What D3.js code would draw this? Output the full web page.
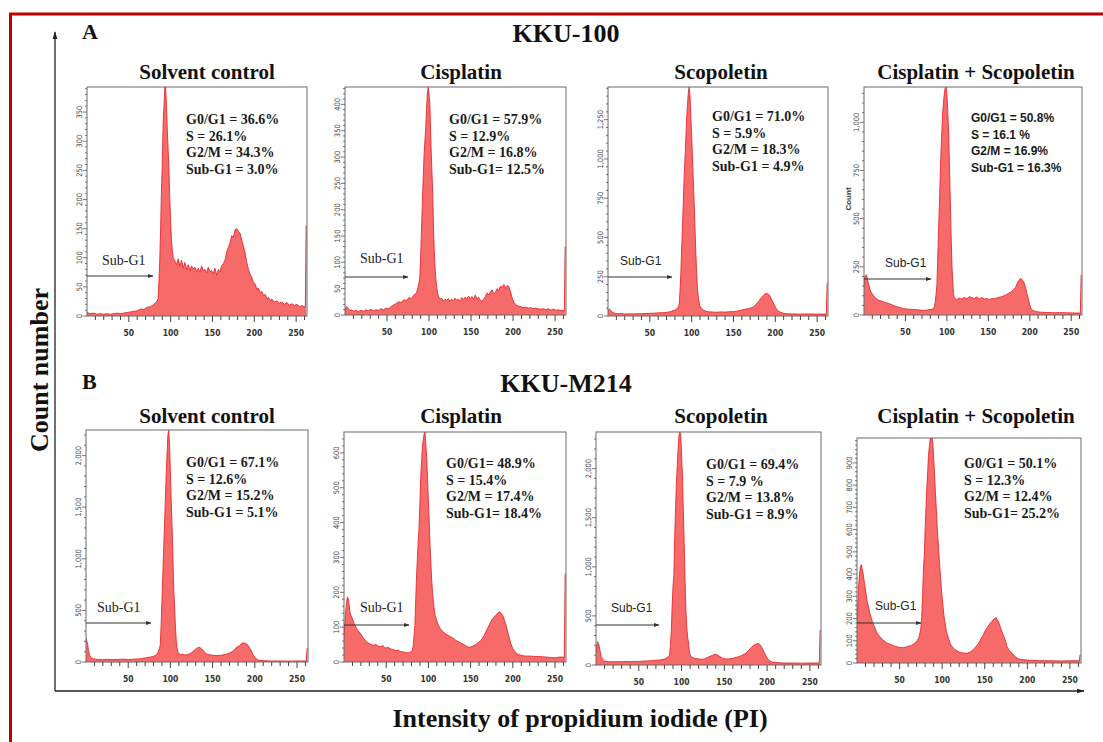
<!DOCTYPE html>
<html>
<head>
<meta charset="utf-8">
<script src="https://cdn.jsdelivr.net/npm/d3@7"></script>
<style>
  body { margin:0; background:#fff; }
  svg { display:block; }
</style>
</head>
<body>
<div id="chart"></div>
<script>
// ---- data: [PI channel, count] ----
const cellLines = ["KKU-100", "KKU-M214"];
const panelLetters = ["A", "B"];
const treatments = ["Solvent control", "Cisplatin", "Scopoletin", "Cisplatin + Scopoletin"];
const xTicks = [50, 100, 150, 200, 250];

const kku100Control = [[0,6],[4,4],[8,5],[12,3],[16,4],[20,3],[24,4],[28,3],[32,4],[36,5],[40,4],[44,5],[48,6],[52,7],[56,8],[60,9],[64,12],[68,11],[72,15],[76,16],[80,20],[83,24],[85,30],[86,60],[87,96],[88,150],[89,215],[90,260],[91,330],[92,360],[93,393],[94,393],[95,360],[96,320],[97,285],[98,250],[99,200],[100,160],[101,130],[102,112],[103,100],[105,95],[107,88],[109,98],[111,85],[113,96],[115,82],[117,92],[119,80],[121,88],[123,78],[125,86],[127,80],[129,84],[131,76],[133,82],[135,75],[137,86],[139,78],[141,80],[143,74],[145,84],[147,76],[149,78],[151,72],[153,82],[155,70],[157,80],[159,76],[161,86],[163,90],[165,96],[167,110],[169,118],[171,125],[173,138],[175,135],[177,148],[179,150],[181,145],[183,142],[185,130],[187,120],[189,108],[191,92],[193,80],[195,72],[197,66],[199,58],[201,55],[203,46],[205,48],[207,40],[209,42],[211,35],[213,37],[215,30],[217,32],[219,27],[221,29],[224,24],[227,26],[230,22],[233,24],[236,20],[239,23],[242,19],[245,21],[248,18],[251,20],[254,16],[257,18],[261,15],[262,156]];
const kku100Cis = [[0,10],[2,16],[4,12],[6,8],[8,10],[10,7],[13,9],[16,6],[19,9],[22,7],[25,10],[28,8],[31,11],[34,8],[37,10],[40,9],[43,12],[46,10],[49,13],[52,12],[55,16],[58,19],[61,22],[64,25],[67,24],[70,29],[73,27],[76,33],[79,31],[82,38],[85,42],[87,52],[89,70],[90,110],[91,160],[92,210],[93,257],[94,300],[95,330],[96,352],[97,390],[98,420],[99,433],[100,420],[101,400],[102,340],[103,290],[104,250],[105,190],[106,130],[107,95],[108,70],[109,54],[110,44],[111,36],[113,30],[115,32],[117,26],[119,30],[121,28],[123,31],[125,26],[127,30],[129,27],[131,32],[133,28],[135,30],[137,27],[139,33],[141,29],[143,34],[145,30],[147,36],[149,31],[151,35],[153,30],[155,38],[157,30],[159,34],[161,28],[163,26],[165,30],[167,35],[169,42],[171,38],[173,44],[175,48],[177,40],[179,43],[181,50],[183,46],[185,55],[187,52],[189,58],[191,50],[193,56],[195,54],[197,44],[199,32],[201,24],[203,20],[206,17],[209,16],[212,14],[215,15],[218,13],[221,14],[224,12],[227,13],[230,12],[233,11],[236,12],[239,10],[242,12],[245,9],[248,11],[251,9],[254,10],[257,8],[261,9],[262,130]];
const kku100Sco = [[0,30],[1,42],[2,44],[3,36],[5,24],[8,18],[12,14],[16,16],[20,12],[25,14],[30,13],[35,15],[40,14],[45,16],[50,17],[55,18],[60,20],[65,21],[70,23],[75,28],[80,38],[83,48],[85,70],[86,150],[87,260],[88,420],[89,560],[90,720],[91,880],[92,1000],[93,1120],[94,1260],[95,1340],[96,1420],[97,1458],[98,1400],[99,1280],[100,1150],[101,1000],[102,860],[103,720],[104,560],[105,400],[106,270],[107,170],[108,120],[109,85],[110,62],[112,48],[114,38],[117,30],[120,27],[125,25],[130,24],[135,26],[140,25],[145,27],[150,28],[155,32],[160,38],[165,44],[170,50],[174,58],[177,75],[180,92],[183,115],[186,132],[189,145],[191,142],[193,132],[195,112],[197,90],[199,68],[201,48],[203,34],[206,24],[210,17],[215,14],[220,13],[230,12],[240,13],[250,12],[261,12],[262,212]];
const kku100Combo = [[0,160],[1,200],[3,209],[5,168],[7,135],[9,115],[12,97],[15,84],[18,76],[21,72],[24,67],[27,64],[30,59],[33,55],[36,48],[39,44],[42,40],[45,36],[48,33],[51,31],[55,30],[60,28],[65,27],[70,24],[75,25],[80,28],[83,32],[85,40],[86,70],[87,110],[88,160],[89,300],[90,440],[91,580],[92,720],[93,860],[94,960],[95,1050],[96,1110],[97,1150],[98,1180],[99,1183],[100,1150],[101,1060],[102,960],[103,790],[104,614],[105,430],[106,270],[107,170],[108,110],[109,92],[110,84],[112,80],[115,88],[118,82],[121,92],[124,85],[127,95],[130,90],[133,86],[136,94],[139,84],[142,90],[145,82],[148,86],[151,80],[154,85],[157,84],[160,88],[163,92],[166,95],[169,100],[172,106],[175,114],[178,122],[181,134],[183,145],[185,166],[187,180],[189,191],[191,182],[193,168],[195,140],[197,105],[199,70],[201,38],[203,26],[206,20],[210,16],[215,14],[220,13],[230,12],[240,12],[250,11],[261,10],[262,209]];
const m214Control = [[0,232],[1,200],[2,168],[3,110],[4,71],[6,39],[9,30],[14,25],[20,22],[26,26],[32,23],[38,25],[44,28],[50,24],[56,27],[62,30],[66,33],[70,39],[75,46],[80,55],[83,68],[85,87],[87,130],[88,168],[89,361],[90,600],[91,845],[92,1090],[93,1329],[94,1570],[95,1813],[96,2020],[97,2200],[98,2248],[99,2100],[100,1813],[101,1550],[102,1300],[103,1000],[104,700],[105,523],[106,330],[107,200],[108,130],[109,95],[110,82],[112,75],[115,71],[118,68],[120,72],[123,80],[126,95],[129,118],[131,130],[133,142],[135,140],[137,126],[139,112],[141,90],[143,77],[146,70],[150,65],[155,62],[160,66],[165,72],[170,87],[173,100],[176,122],[179,145],[182,160],[185,184],[188,183],[190,177],[192,160],[194,135],[196,105],[198,71],[200,45],[203,23],[206,15],[210,13],[220,10],[230,10],[240,9],[250,10],[261,10],[262,135]];
const m214Cis = [[0,67],[1,110],[2,144],[3,170],[4,187],[5,182],[6,165],[7,144],[8,135],[10,124],[12,110],[14,100],[16,92],[18,86],[20,80],[22,72],[24,66],[26,59],[28,56],[30,53],[32,50],[35,48],[38,50],[40,46],[43,44],[46,47],[49,40],[52,42],[55,38],[58,36],[61,33],[64,34],[67,30],[70,29],[73,27],[76,26],[79,29],[81,34],[82,48],[83,75],[84,105],[85,180],[86,249],[87,300],[88,350],[89,392],[90,460],[91,536],[92,580],[93,622],[94,640],[95,655],[96,660],[97,620],[98,584],[99,520],[100,460],[101,400],[102,330],[103,278],[104,230],[105,195],[106,170],[107,150],[108,134],[110,118],[112,105],[114,96],[116,90],[118,86],[120,81],[122,78],[124,76],[126,73],[128,70],[130,67],[132,63],[134,60],[136,58],[138,55],[140,53],[142,50],[144,47],[146,44],[148,42],[150,43],[152,45],[154,48],[156,50],[158,54],[160,57],[162,62],[164,68],[166,76],[168,86],[170,96],[172,106],[174,116],[176,124],[178,130],[180,134],[182,140],[184,144],[186,140],[188,134],[190,120],[192,105],[194,86],[196,67],[198,50],[200,38],[203,28],[206,22],[210,19],[215,17],[220,17],[225,16],[230,16],[235,15],[240,14],[245,13],[250,12],[255,14],[261,14],[262,254]];
const m214Sco = [[0,136],[1,200],[2,237],[3,215],[4,186],[5,130],[6,85],[8,55],[10,40],[15,34],[20,32],[25,35],[30,33],[35,36],[40,34],[45,37],[50,36],[55,40],[60,41],[65,44],[70,48],[75,51],[80,60],[83,75],[85,90],[86,102],[87,200],[88,339],[89,600],[90,800],[91,915],[92,1300],[93,1593],[94,1850],[95,2034],[96,2200],[97,2339],[98,2373],[99,2356],[100,2150],[101,1932],[102,1600],[103,1254],[104,900],[105,576],[106,400],[107,290],[108,237],[109,150],[110,102],[112,80],[115,68],[118,63],[121,61],[124,58],[127,62],[130,75],[133,88],[136,98],[139,108],[141,106],[143,96],[145,85],[148,70],[151,61],[155,62],[160,68],[165,80],[170,95],[175,119],[178,145],[181,172],[184,200],[187,212],[190,220],[192,205],[194,176],[196,140],[198,102],[200,72],[203,41],[206,30],[210,27],[215,22],[220,20],[230,20],[240,19],[250,20],[261,20],[262,356]];
const m214Combo = [[0,172],[1,270],[2,352],[3,400],[4,435],[5,442],[6,425],[7,405],[8,378],[9,352],[11,305],[12,277],[14,245],[15,225],[17,200],[18,187],[20,167],[21,157],[23,140],[25,127],[28,114],[30,105],[33,96],[35,90],[38,86],[40,82],[43,78],[45,75],[48,72],[50,70],[53,69],[55,70],[58,72],[60,75],[63,78],[65,82],[68,90],[70,97],[72,110],[73,120],[74,137],[75,157],[76,210],[77,300],[78,420],[79,480],[80,600],[81,700],[82,790],[83,860],[84,937],[85,975],[86,1012],[87,1012],[88,1020],[89,990],[90,922],[91,850],[92,772],[93,700],[94,622],[95,560],[96,500],[97,442],[98,390],[99,340],[100,292],[101,255],[102,215],[103,187],[104,165],[105,142],[106,127],[108,104],[110,82],[112,72],[115,60],[118,54],[120,49],[123,46],[125,45],[128,44],[130,45],[133,50],[135,55],[138,66],[140,75],[143,90],[145,105],[148,125],[150,142],[153,160],[155,172],[158,185],[160,195],[162,200],[163,205],[164,198],[166,187],[168,165],[170,142],[172,124],[173,112],[175,90],[176,75],[178,62],[180,52],[183,40],[185,30],[188,22],[190,18],[195,15],[200,13],[210,11],[220,10],[230,10],[240,9],[250,10],[261,10],[262,37]];

// y-axis top of each panel and its labelled ticks
const yMax = [393, 433, 1458, 1183, 2248, 660, 2373, 1012];
const yTicks = [
  [0,50,100,150,200,250,300,350],
  [0,50,100,150,200,250,300,350,400],
  [0,250,500,750,1000,1250],
  [0,250,500,750,1000],
  [0,500,1000,1500,2000],
  [0,100,200,300,400,500,600],
  [0,500,1000,1500,2000],
  [0,100,200,300,400,500,600,700,800,900]
];
const yMinorStep = [10, 10, 50, 50, 100, 20, 100, 20];

const stats = [
  ["G0/G1 = 36.6%", "S = 26.1%", "G2/M = 34.3%", "Sub-G1 = 3.0%"],
  ["G0/G1 = 57.9%", "S = 12.9%", "G2/M = 16.8%", "Sub-G1= 12.5%"],
  ["G0/G1 = 71.0%", "S = 5.9%", "G2/M = 18.3%", "Sub-G1 = 4.9%"],
  ["G0/G1 = 50.8%", "S = 16.1 %", "G2/M = 16.9%", "Sub-G1 = 16.3%"],
  ["G0/G1 = 67.1%", "S = 12.6%", "G2/M = 15.2%", "Sub-G1 = 5.1%"],
  ["G0/G1= 48.9%", "S = 15.4%", "G2/M = 17.4%", "Sub-G1= 18.4%"],
  ["G0/G1 = 69.4%", "S = 7.9 %", "G2/M = 13.8%", "Sub-G1 = 8.9%"],
  ["G0/G1 = 50.1%", "S = 12.3%", "G2/M = 12.4%", "Sub-G1= 25.2%"]
];

const series = [kku100Control, kku100Cis, kku100Sco, kku100Combo, m214Control, m214Cis, m214Sco, m214Combo];

// ---- layout (pixels) ----
const W = 1103, H = 742;
const boxes = [
  {l:87, r:307, t:87, b:316}, {l:345, r:566, t:87, b:315}, {l:608, r:828, t:87, b:316}, {l:864, r:1082, t:87, b:315},
  {l:86, r:308, t:430, b:662}, {l:344, r:566, t:432, b:662}, {l:596, r:821, t:432, b:665}, {l:857, r:1081, t:438, b:663}
];
const titleX = [207, 461, 721, 976];
const titleY = [79, 423];
const statPos = [[186,124],[449,124],[712,121],[971,122],[186,467],[446,468],[706,469],[964,468]];
const subPos = [ // label x, label y, arrow end x, arrow y
  [102,265,153,276],[360,263,408,277],[620,265,672,277],[885,267,931,279],
  [97,612,151,623],[360,612,409,625],[611,612,659,625],[875,610,921,623]
];
const sansPanels = new Set([2, 3, 6, 7]);

const SERIF = "'Liberation Serif','Times New Roman',serif";
const SANS = "'Liberation Sans',Arial,sans-serif";
const NARROW = "'DejaVu Sans Condensed','Liberation Sans Narrow',Arial,sans-serif";

const svg = d3.select("#chart").append("svg")
  .attr("width", W).attr("height", H);

const defs = svg.append("defs");
defs.append("marker").attr("id", "arr")
  .attr("viewBox", "0 0 10 10").attr("refX", 9).attr("refY", 5)
  .attr("markerWidth", 5).attr("markerHeight", 5).attr("orient", "auto")
  .append("path").attr("d", "M0,1.5L10,5L0,8.5Z").attr("fill", "#333");
defs.append("marker").attr("id", "bigarr")
  .attr("viewBox", "0 0 10 10").attr("refX", 9).attr("refY", 5)
  .attr("markerWidth", 6).attr("markerHeight", 6).attr("orient", "auto")
  .append("path").attr("d", "M0,2L10,5L0,8Z").attr("fill", "#222");

// red frame
svg.append("line").attr("x1", 9).attr("x2", W).attr("y1", 14).attr("y2", 14)
  .attr("stroke", "#c00000").attr("stroke-width", 3);
svg.append("line").attr("x1", 10.5).attr("x2", 10.5).attr("y1", 13).attr("y2", H)
  .attr("stroke", "#c00000").attr("stroke-width", 3);

// outer axes
svg.append("line").attr("x1", 55).attr("y1", 691).attr("x2", 55).attr("y2", 32)
  .attr("stroke", "#222").attr("stroke-width", 1.3).attr("marker-end", "url(#bigarr)");
svg.append("line").attr("x1", 55).attr("y1", 691).attr("x2", 1084).attr("y2", 691)
  .attr("stroke", "#222").attr("stroke-width", 1.3).attr("marker-end", "url(#bigarr)");

svg.append("text").attr("transform", "translate(48,370) rotate(-90)")
  .attr("text-anchor", "middle").attr("font-family", SERIF).attr("font-weight", "bold")
  .attr("font-size", 26).attr("fill", "#111").text("Count number");
svg.append("text").attr("x", 580).attr("y", 727)
  .attr("text-anchor", "middle").attr("font-family", SERIF).attr("font-weight", "bold")
  .attr("font-size", 26).attr("fill", "#111").text("Intensity of propidium iodide (PI)");

// row headers
[39, 389].forEach((yy, i) => {
  svg.append("text").attr("x", 82).attr("y", yy)
    .attr("font-family", SERIF).attr("font-weight", "bold").attr("font-size", 22)
    .attr("fill", "#111").text(panelLetters[i]);
  svg.append("text").attr("x", 566).attr("y", yy + 3).attr("text-anchor", "middle")
    .attr("font-family", SERIF).attr("font-weight", "bold").attr("font-size", 26)
    .attr("fill", "#111").text(cellLines[i]);
});

series.forEach((data, i) => {
  const bx = boxes[i];
  const row = Math.floor(i / 4), col = i % 4;
  const x = d3.scaleLinear().domain([0, 263]).range([bx.l, bx.r]);
  const y = d3.scaleLinear().domain([0, yMax[i]]).range([bx.b, bx.t]);
  const g = svg.append("g");

  g.append("text").attr("x", titleX[col]).attr("y", titleY[row])
    .attr("text-anchor", "middle").attr("font-family", SERIF).attr("font-weight", "bold")
    .attr("font-size", 21).attr("fill", "#111").text(treatments[col]);

  const clipId = "clip" + i;
  defs.append("clipPath").attr("id", clipId).append("rect")
    .attr("x", bx.l).attr("y", bx.t).attr("width", bx.r - bx.l).attr("height", bx.b - bx.t);

  const area = d3.area().x(d => x(d[0])).y0(y(0)).y1(d => y(d[1]));
  const line = d3.line().x(d => x(d[0])).y(d => y(d[1]));
  const plot = g.append("g").attr("clip-path", `url(#${clipId})`);
  plot.append("path").datum(data).attr("d", area).attr("fill", "#f66a6a");
  plot.append("path").datum(data).attr("d", line).attr("fill", "none")
    .attr("stroke", "#e8292c").attr("stroke-width", 0.9);

  g.append("rect").attr("x", bx.l).attr("y", bx.t)
    .attr("width", bx.r - bx.l).attr("height", bx.b - bx.t)
    .attr("fill", "none").attr("stroke", "#6b6b6b").attr("stroke-width", 1);

  // x ticks
  const minorX = d3.range(10, 263, 10);
  g.selectAll(null).data(minorX).enter().append("line")
    .attr("x1", d => x(d)).attr("x2", d => x(d))
    .attr("y1", bx.b).attr("y2", d => bx.b + (d % 50 === 0 ? 6 : 4))
    .attr("stroke", "#444").attr("stroke-width", 1);
  g.selectAll(null).data(xTicks).enter().append("text")
    .attr("x", d => x(d)).attr("y", bx.b + 20).attr("text-anchor", "middle")
    .attr("font-family", NARROW).attr("font-size", 8.5).attr("font-weight", "bold")
    .attr("fill", "#333").text(d => d);

  // y ticks
  const minorY = d3.range(0, yMax[i], yMinorStep[i]);
  g.selectAll(null).data(minorY).enter().append("line")
    .attr("x1", bx.l).attr("x2", d => bx.l - (yTicks[i].includes(d) ? 4 : 2))
    .attr("y1", d => y(d)).attr("y2", d => y(d))
    .attr("stroke", "#555").attr("stroke-width", 0.8);
  g.selectAll(null).data(yTicks[i]).enter().append("text")
    .attr("transform", d => `translate(${bx.l - 5},${y(d)}) rotate(-90)`)
    .attr("text-anchor", "middle")
    .attr("font-family", NARROW).attr("font-size", 7.5)
    .attr("fill", "#444").text(d => d3.format(",")(d));

  if (i === 3) {
    g.append("text").attr("transform", `translate(${bx.l - 13},${(bx.t + bx.b) / 2 - 2}) rotate(-90)`)
      .attr("text-anchor", "middle").attr("font-family", SANS).attr("font-weight", "bold")
      .attr("font-size", 8).attr("fill", "#333").text("Count");
  }

  // stats
  const sans = i === 3;
  g.selectAll(null).data(stats[i]).enter().append("text")
    .attr("x", statPos[i][0]).attr("y", (d, k) => statPos[i][1] + k * 16.7)
    .attr("font-family", sans ? SANS : SERIF).attr("font-weight", "bold")
    .attr("font-size", sans ? 12 : 14).attr("fill", "#1a1a1a").text(d => d);

  // Sub-G1 arrow
  const sp = subPos[i];
  g.append("text").attr("x", sp[0]).attr("y", sp[1])
    .attr("font-family", sansPanels.has(i) ? SANS : SERIF)
    .attr("font-size", sansPanels.has(i) ? 12 : 14).attr("fill", "#222").text("Sub-G1");
  g.append("line").attr("x1", bx.l).attr("y1", sp[3]).attr("x2", sp[2]).attr("y2", sp[3])
    .attr("stroke", "#333").attr("stroke-width", 1.1).attr("marker-end", "url(#arr)");
});
</script>
</body>
</html>
